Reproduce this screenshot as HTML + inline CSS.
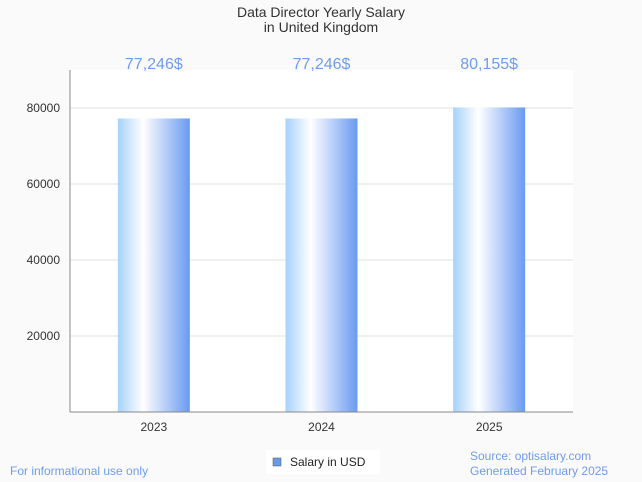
<!DOCTYPE html>
<html><head><meta charset="utf-8"><style>
body{margin:0;background:#fafafa;font-family:"Liberation Sans",sans-serif;}
svg{display:block}
</style></head><body>
<svg id="chart" width="642" height="482">
<defs><linearGradient id="g" x1="0" x2="1" y1="0" y2="0">
<stop offset="0" stop-color="#a6d2fb"/><stop offset="0.35" stop-color="#ffffff"/><stop offset="1" stop-color="#6a9af0"/>
</linearGradient></defs>
<rect x="0" y="0" width="642" height="482" fill="#fafafa"/>
<rect x="70" y="70" width="503" height="342" fill="#ffffff"/>
<text x="321" y="17" text-anchor="middle" font-size="14" fill="#333">Data Director Yearly Salary</text>
<text x="321" y="32" text-anchor="middle" font-size="14" fill="#333">in United Kingdom</text>
<g id="grid"></g><g id="bars"></g>
<line x1="70" y1="70" x2="70" y2="412" stroke="#888"/>
<line x1="70" y1="412" x2="573" y2="412" stroke="#888"/>
<rect x="266" y="450" width="114" height="24" fill="#fff"/>
<rect x="273" y="458" width="8" height="8" fill="#6a9ae8" stroke="#555" stroke-width="0.5"/>
<text x="290" y="466" font-size="12" fill="#222">Salary in USD</text>
<text x="10" y="475" font-size="12" fill="#6e9cf0">For informational use only</text>
<text x="470" y="460" font-size="12" fill="#6e9cf0">Source: optisalary.com</text>
<text x="470" y="475" font-size="12" fill="#6e9cf0">Generated February 2025</text>
</svg>
<script>
const categories=["2023","2024","2025"];
const values=[77246,77246,80155];
const valueLabels=["77,246$","77,246$","80,155$"];
const yTicks=[20000,40000,60000,80000];
const ns="http://www.w3.org/2000/svg";
const y=v=>412-v*(76/20000);
const x=i=>70+503*(i+0.5)/categories.length;
const grid=document.getElementById('grid'),bars=document.getElementById('bars');
function mk(tag,attrs,parent,text){const e=document.createElementNS(ns,tag);for(const k in attrs)e.setAttribute(k,attrs[k]);if(text!==undefined)e.textContent=text;parent.appendChild(e);return e;}
yTicks.forEach(t=>{
 const l=mk('line',{x1:70,x2:573,y1:y(t),y2:y(t),stroke:'#e0e0e0'},grid);
 
 
 const tx=mk('text',{x:60,y:y(t)+4,'text-anchor':'end','font-size':12,fill:'#333'},grid,String(t));
 
 
});
categories.forEach((c,i)=>{
 const r=mk('rect',{x:x(i)-36,y:y(values[i]),width:72,height:412-y(values[i]),fill:'url(#g)'},bars);
 
 
 const v=mk('text',{x:x(i),y:69,'text-anchor':'middle','font-size':16,fill:'#6e9cf0'},bars,valueLabels[i]);
 
 
 const t=mk('text',{x:x(i),y:431,'text-anchor':'middle','font-size':12,fill:'#333'},bars,c);
 
 
});
</script>
</body></html>
